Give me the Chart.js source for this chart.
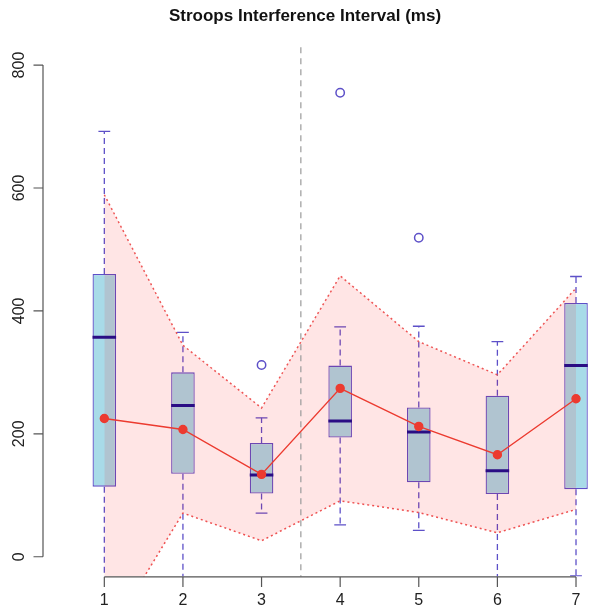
<!DOCTYPE html>
<html>
<head>
<meta charset="utf-8">
<script src="https://cdn.jsdelivr.net/npm/chart.js@4.4.0/dist/chart.umd.min.js"></script>
<style>
    body { margin: 0; background: #fff; overflow: hidden; }
</style>
</head>
<body>
<canvas id="stroopChart" width="590" height="612"></canvas>
<script>
// Box plot data per group
const groups = [1, 2, 3, 4, 5, 6, 7];
const q1 = [114, 135, 103, 194, 121, 102, 110];
const medians = [357, 246, 133, 221, 203, 140, 311];
const q3 = [460, 300, 185, 311, 243, 262, 413];
const whiskerLow = [-45, -40, 71, 52, 43, -40, -31];
const whiskerHigh = [692, 365, 226, 374, 375, 350, 456];
const outlierGroups = [3, 4, 5];
const outlierValues = [312, 755, 519];

// Mean line and its band
const means = [225, 207, 134, 274, 212, 166, 257];
const bandUpper = [589, 344, 242, 457, 350, 296, 437];
const bandLower = [-139, 71, 26, 91, 72, 39, 77];

const yTicks = [0, 200, 400, 600, 800];
const dividerAt = 3.5;

const BOX_HALF = 0.15;
const CAP_HALF = 0.075;
const BOX_LINE = "#5d50c8";

function segments(list) {
    // list of [x1, y1, x2, y2] -> line points with gaps
    const pts = [];
    list.forEach(function (s) {
        pts.push({x: s[0], y: s[1]});
        pts.push({x: s[2], y: s[3]});
        pts.push({x: s[2], y: null});
    });
    return pts;
}

const whiskerSegs = [];
const capSegs = [];
const medianSegs = [];
groups.forEach(function (g, i) {
    whiskerSegs.push([g, q3[i], g, whiskerHigh[i]]);
    whiskerSegs.push([g, q1[i], g, whiskerLow[i]]);
    capSegs.push([g - CAP_HALF, whiskerHigh[i], g + CAP_HALF, whiskerHigh[i]]);
    capSegs.push([g - CAP_HALF, whiskerLow[i], g + CAP_HALF, whiskerLow[i]]);
    medianSegs.push([g - BOX_HALF, medians[i], g + BOX_HALF, medians[i]]);
});

// R style axes drawn from the chart scales
const axesPlugin = {
    id: "rAxes",
    afterDraw(chart) {
        const {ctx, chartArea, scales} = chart;
        const xs = scales.x, ys = scales.y;
        ctx.save();
        ctx.strokeStyle = "#555";
        ctx.lineWidth = 1.2;
        ctx.fillStyle = "#222";
        ctx.font = '16px "Liberation Sans", Arial, sans-serif';

        const x0 = chartArea.left;
        ctx.beginPath();
        ctx.moveTo(x0, ys.getPixelForValue(yTicks[0]));
        ctx.lineTo(x0, ys.getPixelForValue(yTicks[yTicks.length - 1]));
        yTicks.forEach(function (v) {
            const py = ys.getPixelForValue(v);
            ctx.moveTo(x0, py);
            ctx.lineTo(x0 - 9.5, py);
        });
        const y0 = chartArea.bottom + 0.5;
        ctx.moveTo(xs.getPixelForValue(groups[0]), y0);
        ctx.lineTo(xs.getPixelForValue(groups[groups.length - 1]), y0);
        groups.forEach(function (g) {
            const px = xs.getPixelForValue(g);
            ctx.moveTo(px, y0);
            ctx.lineTo(px, y0 + 10);
        });
        ctx.stroke();

        ctx.textAlign = "center";
        ctx.textBaseline = "middle";
        yTicks.forEach(function (v) {
            ctx.save();
            ctx.translate(20, ys.getPixelForValue(v));
            ctx.rotate(-Math.PI / 2);
            ctx.fillText(String(v), 0, 0);
            ctx.restore();
        });
        groups.forEach(function (g) {
            ctx.fillText(String(g), xs.getPixelForValue(g), 601);
        });
        ctx.restore();
    },
};

const ctx = document.getElementById("stroopChart").getContext("2d");

new Chart(ctx, {
    type: "line",
    data: {
        datasets: [
            {
                type: "bar",
                data: groups.map((g, i) => ({x: g, y: [q1[i], q3[i]]})),
                backgroundColor: "#a8dbe8",
                borderColor: BOX_LINE,
                borderWidth: 1.3,
                borderSkipped: false,
                barPercentage: 0.3,
                categoryPercentage: 1,
                grouped: false,
                order: 6,
            },
            {
                data: segments(whiskerSegs),
                borderColor: BOX_LINE,
                borderWidth: 1.3,
                borderDash: [6, 4],
                pointRadius: 0,
                spanGaps: false,
                order: 7,
            },
            {
                data: segments(capSegs),
                borderColor: BOX_LINE,
                borderWidth: 1.3,
                pointRadius: 0,
                spanGaps: false,
                order: 7,
            },
            {
                data: groups.map((g, i) => ({x: g, y: bandUpper[i]})),
                borderColor: "#ee5555",
                borderWidth: 1.5,
                borderDash: [2, 3],
                backgroundColor: "rgba(255, 0, 0, 0.1)",
                fill: "+1",
                pointRadius: 0,
                tension: 0,
                order: 5,
            },
            {
                data: groups.map((g, i) => ({x: g, y: bandLower[i]})),
                borderColor: "#ee5555",
                borderWidth: 1.5,
                borderDash: [2, 3],
                fill: false,
                pointRadius: 0,
                tension: 0,
                order: 5,
            },
            {
                data: [{x: dividerAt, y: -40}, {x: dividerAt, y: 840}],
                borderColor: "#999",
                borderWidth: 1.2,
                borderDash: [6, 5],
                pointRadius: 0,
                order: 4,
            },
            {
                data: segments(medianSegs),
                borderColor: "#2a0d84",
                borderWidth: 3,
                pointRadius: 0,
                spanGaps: false,
                order: 3,
            },
            {
                type: "scatter",
                data: outlierGroups.map((g, i) => ({x: g, y: outlierValues[i]})),
                pointRadius: 4.2,
                pointBorderWidth: 1.5,
                pointBorderColor: BOX_LINE,
                pointBackgroundColor: "rgba(0,0,0,0)",
                showLine: false,
                order: 2,
            },
            {
                data: groups.map((g, i) => ({x: g, y: means[i]})),
                borderColor: "#ec3b30",
                borderWidth: 1.4,
                pointRadius: 4,
                pointBackgroundColor: "#ec3b30",
                pointBorderColor: "#ec3b30",
                tension: 0,
                order: 1,
            },
        ],
    },
    options: {
        responsive: false,
        animation: false,
        layout: {
            autoPadding: false,
            padding: {left: 20, right: 0, top: 0, bottom: 0},
        },
        plugins: {
            legend: {display: false},
            tooltip: {enabled: false},
            title: {
                display: true,
                text: "Stroops Interference Interval (ms)",
                color: "#111",
                font: {family: "Liberation Sans", size: 17, weight: "bold", lineHeight: 1.2},
                padding: {top: 6, bottom: 19},
            },
        },
        scales: {
            x: {
                type: "linear",
                min: 0.22,
                max: 7.178,
                offset: false,
                grid: {display: false},
                border: {display: false},
                ticks: {display: false},
                afterBuildTicks: function (scale) {
                    scale.ticks = groups.map((g) => ({value: g}));
                },
                afterFit: function (scale) {
                    scale.height = 35.6;
                },
            },
            y: {
                type: "linear",
                min: -32,
                max: 832,
                grid: {display: false},
                border: {display: false},
                ticks: {display: false},
                afterFit: function (scale) {
                    scale.width = 23;
                },
            },
        },
    },
    plugins: [axesPlugin],
});
</script>
</body>
</html>
